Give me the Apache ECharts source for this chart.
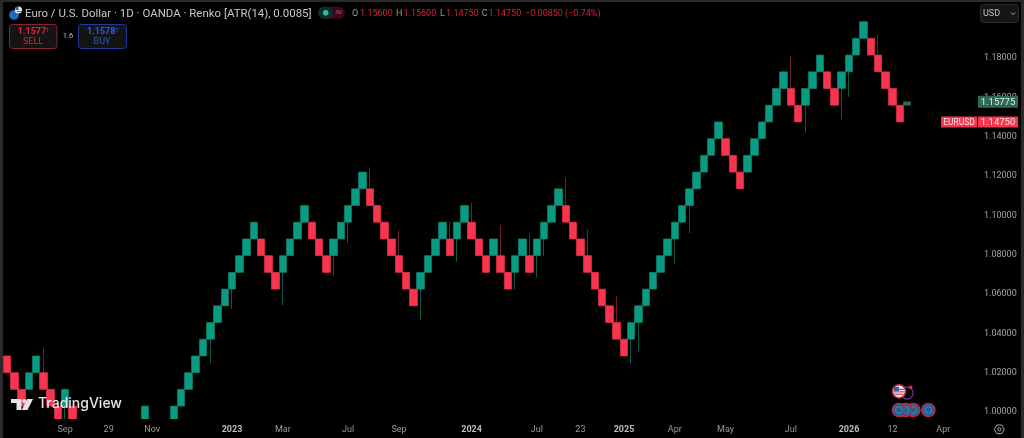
<!DOCTYPE html>
<html><head><meta charset="utf-8">
<style>html,body{margin:0;padding:0;background:#000;overflow:hidden}#c{width:1024px;height:438px}</style>
<script src="https://cdn.jsdelivr.net/npm/echarts@6/dist/echarts.min.js"></script>
</head><body><div id="c"></div>
<script>
const opens = [1.0285,1.02,1.0115,1.0115,1.02,1.02,1.0115,1.003,1.003,1.003,
0.9945,0.986,0.9775,0.969,0.9605,0.9605,0.969,0.9775,0.986,0.9945,
0.9945,0.986,0.986,0.9945,1.003,1.0115,1.02,1.0285,1.037,1.0455,
1.054,1.0625,1.071,1.0795,1.088,1.088,1.0795,1.071,1.071,1.0795,
1.088,1.0965,1.0965,1.088,1.0795,1.0795,1.088,1.0965,1.105,1.1135,
1.1135,1.105,1.0965,1.088,1.0795,1.071,1.0625,1.0625,1.071,1.0795,
1.088,1.088,1.088,1.0965,1.0965,1.088,1.0795,1.0795,1.0795,1.071,
1.071,1.0795,1.0795,1.0795,1.088,1.0965,1.105,1.105,1.0965,1.088,
1.0795,1.071,1.0625,1.054,1.0455,1.037,1.037,1.0455,1.054,1.0625,
1.071,1.0795,1.088,1.0965,1.105,1.1135,1.122,1.1305,1.139,1.139,
1.1305,1.122,1.122,1.1305,1.139,1.1475,1.156,1.1645,1.1645,1.156,
1.156,1.1645,1.173,1.173,1.1645,1.1645,1.173,1.1815,1.19,1.19,
1.1815,1.173,1.1645,1.156,1.156];
const closes = [1.02,1.0115,1.003,1.02,1.0285,1.0115,1.003,0.9945,1.0115,0.9945,
0.986,0.9775,0.969,0.9605,0.952,0.969,0.9775,0.986,0.9945,1.003,
0.986,0.9775,0.9945,1.003,1.0115,1.02,1.0285,1.037,1.0455,1.054,
1.0625,1.071,1.0795,1.088,1.0965,1.0795,1.071,1.0625,1.0795,1.088,
1.0965,1.105,1.088,1.0795,1.071,1.088,1.0965,1.105,1.1135,1.122,
1.105,1.0965,1.088,1.0795,1.071,1.0625,1.054,1.071,1.0795,1.088,
1.0965,1.0795,1.0965,1.105,1.088,1.0795,1.071,1.088,1.071,1.0625,
1.0795,1.088,1.071,1.088,1.0965,1.105,1.1135,1.0965,1.088,1.0795,
1.071,1.0625,1.054,1.0455,1.037,1.0285,1.0455,1.054,1.0625,1.071,
1.0795,1.088,1.0965,1.105,1.1135,1.122,1.1305,1.139,1.1475,1.1305,
1.122,1.1135,1.1305,1.139,1.1475,1.156,1.1645,1.173,1.156,1.1475,
1.1645,1.173,1.1815,1.1645,1.156,1.173,1.1815,1.19,1.1985,1.1815,
1.173,1.1645,1.156,1.1475,1.15775];
const upperWickIndex = [5,50,54,61,64,68,72,77,80,84,108,120];
const upperWickPrice = [1.0325,1.1244,1.0925,1.0971,1.1064,1.0951,1.0909,1.1193,1.0929,1.059,1.181,1.1919];
const lowerWickIndex = [8,28,31,38,45,47,57,62,70,73,74,86,87,92,94,110,115,116];
const lowerWickPrice = [0.994,1.0248,1.0524,1.0544,1.0693,1.0858,1.0468,1.0764,1.0624,1.0685,1.0795,1.0246,1.0309,1.0754,1.0909,1.142,1.1488,1.1603];
const priceTicks = [1.00,1.02,1.04,1.06,1.08,1.10,1.12,1.14,1.16,1.18];
const timeTickIndex = [8,14,20,31,38,47,54,64,73,79,85,92,99,108,116,122,129];
const timeTickLabel = ['Sep','29','Nov','2023','Mar','Jul','Sep','2024','Jul','23','2025','Apr','May','Jul','2026','12','Apr'];
const lastClose = 1.1475, livePrice = 1.15775;

const UP='#0a9c82', DOWN='#f8344e', WICK_UP='#0a5a4c', WICK_DOWN='#6e1f2c', GHOST='#2d6a55';
const SLOTS=134;
const categories=[]; for(let i=0;i<SLOTS;i++){const k=timeTickIndex.indexOf(i);categories.push(k>=0?timeTickLabel[k]:'');}
const high=opens.map((o,i)=>Math.max(o,closes[i])), low=opens.map((o,i)=>Math.min(o,closes[i]));
upperWickIndex.forEach((i,k)=>high[i]=upperWickPrice[k]);
lowerWickIndex.forEach((i,k)=>low[i]=lowerWickPrice[k]);
const bodies=opens.map((o,i)=>{const c=closes[i];const v=[o,c,Math.min(o,c),Math.max(o,c)];
  return i===opens.length-1?{value:v,itemStyle:{color:GHOST,borderColor:GHOST}}:v;});
const wicks=opens.map((o,i)=>[o,closes[i],low[i],high[i]]);

const chart=echarts.init(document.getElementById('c'),null,{renderer:'canvas',width:1024,height:438});
chart.setOption({
  animation:false,backgroundColor:'#000',
  grid:{left:3.4,top:2,width:972.6,height:417},
  xAxis:{type:'category',data:categories,boundaryGap:true,z:70,
    axisLine:{show:false},axisTick:{show:false},splitLine:{show:false},
    axisLabel:{interval:0,hideOverlap:false,margin:6,color:'#9a9a9a',fontFamily:'Roboto',fontSize:9,
      formatter:v=>/^20\d\d$/.test(v)?'{y|'+v+'}':v,
      rich:{y:{color:'#bdbdbd',fontWeight:'bold',fontFamily:'Roboto',fontSize:9}}}},
  yAxis:{type:'value',position:'right',min:0.99644,max:1.20849,scale:true,
    axisLine:{show:false},axisTick:{show:false},splitLine:{show:false},
    axisLabel:{customValues:priceTicks,margin:8,color:'#a4a4a4',fontFamily:'Roboto',fontSize:9,formatter:v=>v.toFixed(5)}},
  series:[
    {type:'candlestick',data:wicks,barWidth:1,silent:true,
      itemStyle:{color:WICK_UP,color0:WICK_DOWN,borderColor:WICK_UP,borderColor0:WICK_DOWN,borderWidth:1}},
    {type:'candlestick',data:bodies,barWidth:8,silent:true,
      itemStyle:{color:UP,color0:DOWN,borderColor:'#0a8a74',borderColor0:DOWN,borderWidth:0.6}}
  ]
});

const py=p=>chart.convertToPixel({yAxisIndex:0},p);
const Z=50;
function T(x,y,s,o){o=o||{};return {type:'text',z:o.z||Z,x:x,y:y,silent:true,style:{text:s,fill:o.c||'#c8c8c8',
  font:(o.w||'normal')+' '+(o.s||9)+'px '+(o.f||'Roboto'),align:o.a||'left',verticalAlign:'middle'}};}
function R(x,y,w,h,o){o=o||{};return {type:'rect',z:o.z||Z,silent:true,shape:{x:x,y:y,width:w,height:h,r:o.r||0},
  style:{fill:o.c||'none',stroke:o.b||null,lineWidth:o.lw||1}};}
function C(x,y,r,o){o=o||{};return {type:'circle',z:o.z||Z,silent:true,shape:{cx:x,cy:y,r:r},
  style:{fill:o.c||'none',stroke:o.b||null,lineWidth:o.lw||1}};}
function P(pts,o){o=o||{};return {type:'polygon',z:o.z||Z,silent:true,shape:{points:pts},
  style:{fill:o.c||'none',stroke:o.b||null,lineWidth:o.lw||1}};}

function euCoin(x,y,z){return [
  C(x,y,6.6,{c:'#1263ad',b:'#c4283f',lw:1.5,z:z}),
  C(x,y,3.4,{b:'#a89a3a',lw:0.6,z:z+0.1})];}
function usCoin(x,y,z){return [
  C(x,y,6.6,{c:'#e8e8ee',b:'#c4283f',lw:1.5,z:z}),
  R(x-5,y-2.4,10,1.1,{c:'#d8394c',z:z+0.1}),R(x-5.5,y,11,1.1,{c:'#d8394c',z:z+0.1}),R(x-4.5,y+2.4,9,1.1,{c:'#d8394c',z:z+0.1}),
  R(x-5,y-4.5,5,4.2,{c:'#3a5fb0',z:z+0.2})];}

const yLive=py(livePrice), yLast=py(lastClose);
const els=[
  // mask below the plot: the bricks stop at the time scale
  R(0,419,1024,19,{c:'#000',z:40}),
  // frame
  R(0,0,3,438,{c:'#2a2a2a',z:90}),R(0,0,1024,2,{c:'#2a2a2a',z:90}),R(1021,0,3,438,{c:'#2a2a2a',z:90}),
  // header
  C(14,15,5,{c:'#1a63b0'}),C(14,15,2.6,{b:'#3d83c8',lw:0.8,z:Z+1}),C(18.5,10,3.6,{c:'#e6e6ee',z:Z+2}),R(15.5,7,3,3,{c:'#3a5fb0',z:Z+3}),R(17,11,5,1,{c:'#d8394c',z:Z+3}),
  T(25,14,'Euro / U.S. Dollar · 1D · OANDA · Renko [ATR(14), 0.0085]',{s:11.45,c:'#c8c8c8'}),
  R(318,6.7,27,12,{c:'#3a0a1c',r:6}),R(318,6.7,15,12,{c:'#0b2f2a',r:6,z:Z+1}),C(325.7,12.8,2.8,{c:'#2ebd9f',z:Z+2}),
  T(339,12.5,'≈',{s:10,c:'#e8336b',a:'center',z:Z+2,f:'DejaVu Sans'}),
  T(352,13.5,'O',{c:'#9a9a9a'}),T(360,13.5,'1.15600',{c:'#d4233e'}),
  T(396,13.5,'H',{c:'#9a9a9a'}),T(403.5,13.5,'1.15600',{c:'#d4233e'}),
  T(440,13.5,'L',{c:'#9a9a9a'}),T(446,13.5,'1.14750',{c:'#d4233e'}),
  T(481.7,13.5,'C',{c:'#9a9a9a'}),T(488.5,13.5,'1.14750',{c:'#d4233e'}),
  T(525,13.5,'−0.00850 (−0.74%)',{c:'#d4233e'}),
  // sell / buy
  R(9.5,24.5,47.5,24,{c:'#141414',b:'#8f2030',r:3}),
  T(17.7,32,'1.1577',{c:'#e0243c',w:'bold',s:9,z:Z+1}),T(45.5,30.5,'1',{c:'#e0243c',s:6,z:Z+1}),
  T(33,41.5,'SELL',{c:'#cc2a3c',a:'center',s:9,z:Z+1}),
  T(68,36,'1.6',{c:'#c0c0c0',a:'center',s:7.5}),
  R(78.5,24.5,48,24,{c:'#141414',b:'#1c3a9a',r:3}),
  T(87,32,'1.1578',{c:'#2f5bea',w:'bold',s:9,z:Z+1}),T(115,30.5,'7',{c:'#2f5bea',s:6,z:Z+1}),
  T(102,41.5,'BUY',{c:'#2f55cc',a:'center',s:9,z:Z+1}),
  // USD
  R(980.5,4.5,38,18,{c:'#161616',b:'#2b2b2b',r:3}),
  T(983,13.5,'USD',{c:'#c0c0c0',s:9,z:Z+1}),
  {type:'polyline',z:Z+1,silent:true,shape:{points:[[1011,12.5],[1013,14.5],[1015,12.5]]},style:{stroke:'#b0b0b0',fill:'none',lineWidth:1}},
  // price tags
  R(978,yLive-6,40,12,{c:GHOST}),
  T(998,yLive+0.5,'1.15775',{c:'#e8e8e8',a:'center',s:9.5,z:Z+1}),
  R(941,yLast-5.5,36,11,{c:'#f8344e'}),R(978,yLast-5.5,40,11,{c:'#f8344e'}),
  T(959,yLast+0.5,'EURUSD',{c:'#f4e6e8',a:'center',s:8.5,z:Z+1}),
  T(998,yLast+0.5,'1.14750',{c:'#f4e6e8',a:'center',s:9.5,z:Z+1}),
  // logo
  P([[11,399],[21.5,399],[21.5,410],[16.5,410],[16.5,403],[11,403]],{c:'#e4e4e4',z:60}),
  C(24.2,401,2,{c:'#e4e4e4',z:60}),
  P([[27,399],[33,399],[27.5,410],[21.8,410]],{c:'#e4e4e4',z:60}),
  T(38,404,'TradingView',{s:14,w:'500',c:'#e4e4e4',f:'Inter',z:60}),
  // gear
  P([[1004.3,429.3],[1001.8,425],[996.8,425],[994.3,429.3],[996.8,433.6],[1001.8,433.6]],{b:'#a8a8a8',z:75}),
  C(999.3,429.3,1.7,{b:'#a8a8a8',z:75}),
  // event icons
  C(907,393,6,{b:'#6a2a9a',lw:1.3,z:55}),
  C(910.7,387.3,1.7,{c:'#e8324a',z:58})
].concat(usCoin(899,391.3,56),euCoin(913.3,410,55),euCoin(905.5,410,56),euCoin(899,410,57),euCoin(928.3,410,55));
chart.setOption({graphic:{elements:els}});
</script></body></html>
